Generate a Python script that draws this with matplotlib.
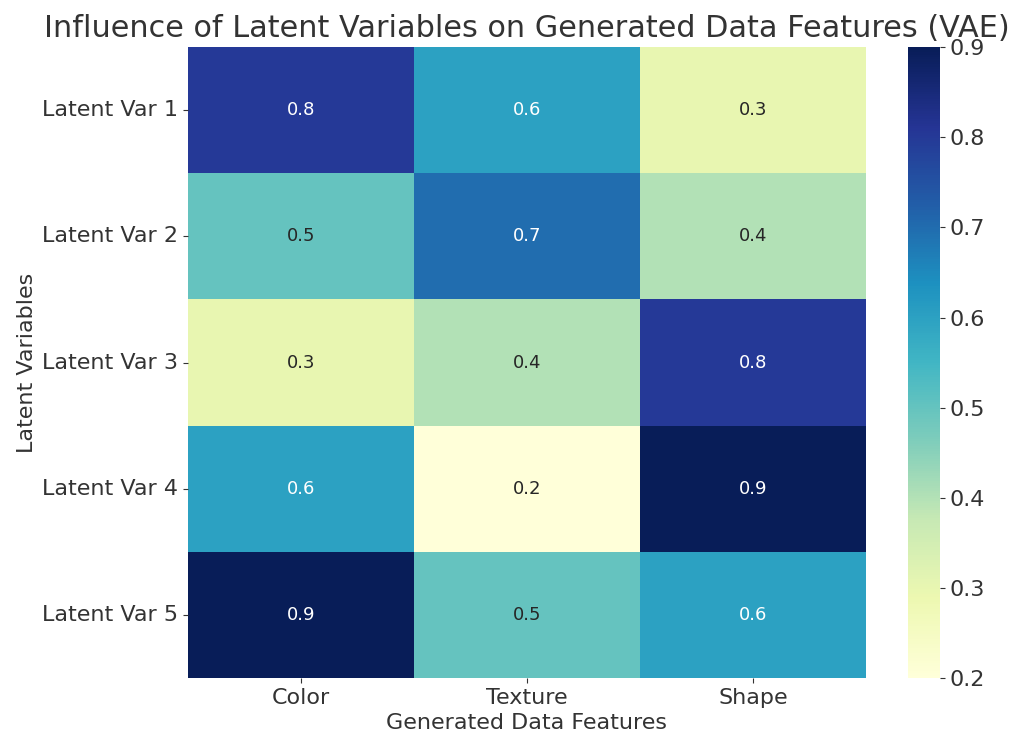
import matplotlib
matplotlib.use("Agg")
import matplotlib.pyplot as plt
import seaborn as sns
import numpy as np
import pandas as pd

latent_vars = ["Latent Var 1", "Latent Var 2", "Latent Var 3", "Latent Var 4", "Latent Var 5"]
features = ["Color", "Texture", "Shape"]
color_vals = [0.8, 0.5, 0.3, 0.6, 0.9]
texture_vals = [0.6, 0.7, 0.4, 0.2, 0.5]
shape_vals = [0.3, 0.4, 0.8, 0.9, 0.6]

df = pd.DataFrame({"Color": color_vals, "Texture": texture_vals, "Shape": shape_vals}, index=latent_vars)

txt = "#333333"
plt.rcParams['text.color'] = txt
plt.rcParams['axes.labelcolor'] = txt
plt.rcParams['xtick.color'] = txt
plt.rcParams['ytick.color'] = txt

fig = plt.figure(figsize=(10.24, 7.51), dpi=100)
ax = fig.add_axes([0.1836, 0.0972, 0.662, 0.840])
cax = fig.add_axes([0.887, 0.0972, 0.031, 0.840])
sns.heatmap(df, annot=True, fmt=".1f", cmap="YlGnBu", ax=ax, cbar_ax=cax,
            annot_kws={"fontsize": 13})
fig.text(0.5147, 0.951, "Influence of Latent Variables on Generated Data Features (VAE)",
         fontsize=21.8, ha="center", va="baseline")
ax.set_xlabel("Generated Data Features", fontsize=16)
ax.set_ylabel("Latent Variables", fontsize=16)
ax.tick_params(axis="both", labelsize=16)
plt.setp(ax.get_yticklabels(), rotation=0)
cax.tick_params(labelsize=16)
fig.savefig("out.png", dpi=100)
